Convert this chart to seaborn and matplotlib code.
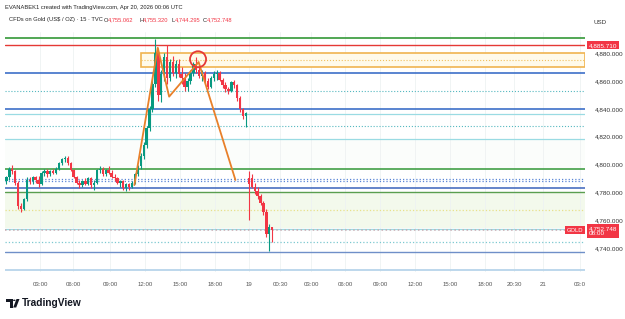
import matplotlib
matplotlib.use("Agg")
import matplotlib.pyplot as plt
import matplotlib.transforms as mtransforms
from matplotlib.patches import Rectangle, Ellipse, Polygon, Circle
import seaborn as sns
import pandas as pd

# ---------------- data ----------------
opens = [4788, 4791, 4797, 4795, 4787, 4770, 4768, 4775, 4789, 4788,
         4791, 4789, 4786, 4794, 4795, 4793, 4795, 4794, 4797, 4801,
         4804, 4805, 4801, 4796, 4791, 4787, 4785, 4788, 4786, 4790,
         4785, 4787, 4796, 4797, 4793, 4796, 4794, 4791, 4790, 4787,
         4788, 4783, 4786, 4784, 4787, 4793, 4799, 4806, 4814, 4826,
         4840, 4858, 4880, 4850, 4865, 4877, 4862, 4874, 4866, 4872,
         4865, 4862, 4856, 4860, 4866, 4872, 4868, 4864, 4866, 4860,
         4856, 4862, 4865, 4866, 4861, 4857, 4854, 4853, 4859, 4857,
         4848, 4840, 4835,
         4790, 4790, 4784, 4781, 4777, 4772, 4766, 4750, 4755.062]
highs = [4792, 4798, 4800, 4796, 4788, 4772, 4776, 4791, 4791, 4792,
         4792, 4792, 4795, 4797, 4797, 4796, 4797, 4798, 4802, 4805,
         4806, 4806, 4802, 4797, 4792, 4789, 4789, 4790, 4791, 4791,
         4789, 4797, 4799, 4798, 4797, 4799, 4796, 4793, 4791, 4789,
         4789, 4787, 4787, 4788, 4794, 4800, 4808, 4816, 4828, 4842,
         4862, 4890, 4884, 4868, 4880, 4886, 4876, 4878, 4875, 4876,
         4870, 4866, 4862, 4868, 4874, 4877, 4871, 4868, 4867, 4862,
         4864, 4867, 4868, 4867, 4862, 4859, 4856, 4860, 4861, 4858,
         4849, 4841, 4838,
         4795, 4793, 4787, 4784, 4779, 4774, 4768, 4757, 4755.320]
lows = [4786, 4789, 4793, 4785, 4768, 4766, 4767, 4774, 4786, 4786,
        4787, 4784, 4785, 4792, 4791, 4792, 4793, 4793, 4796, 4800,
        4802, 4800, 4795, 4790, 4786, 4783, 4784, 4785, 4785, 4783,
        4782, 4786, 4794, 4792, 4792, 4793, 4790, 4788, 4786, 4784,
        4782, 4781, 4782, 4783, 4786, 4792, 4797, 4804, 4812, 4824,
        4838, 4856, 4846, 4845, 4860, 4858, 4860, 4864, 4862, 4863,
        4858, 4853, 4853, 4858, 4864, 4866, 4862, 4860, 4858, 4854,
        4855, 4860, 4861, 4860, 4855, 4852, 4851, 4852, 4855, 4846,
        4838, 4833, 4827,
        4760, 4783, 4779, 4775, 4771, 4764, 4748, 4738, 4744.295]
closes = [4791, 4797, 4795, 4787, 4770, 4768, 4775, 4789, 4788, 4791,
          4789, 4786, 4794, 4795, 4793, 4795, 4794, 4797, 4801, 4804,
          4805, 4801, 4796, 4791, 4787, 4785, 4788, 4786, 4790, 4785,
          4787, 4796, 4797, 4793, 4796, 4794, 4791, 4790, 4787, 4788,
          4783, 4786, 4784, 4787, 4793, 4799, 4806, 4814, 4826, 4840,
          4858, 4880, 4850, 4865, 4877, 4862, 4874, 4866, 4872, 4865,
          4862, 4856, 4860, 4866, 4872, 4868, 4864, 4866, 4860, 4856,
          4862, 4865, 4866, 4861, 4857, 4854, 4853, 4859, 4857, 4848,
          4840, 4835, 4837,
          4786, 4784, 4781, 4777, 4772, 4766, 4750, 4755, 4752.748]

time_ticks = [11.5, 22.8, 35.5, 47.4, 59.4, 71.4, 83.1, 93.7, 104.3, 115.9,
              127.9, 139.9, 151.9, 163.9, 173.8, 183.7, 196.4]
time_labels = ["03:00", "06:00", "09:00", "12:00", "15:00", "18:00", "19",
               "00:30", "03:00", "06:00", "09:00", "12:00", "15:00", "18:00",
               "20:30", "21", "03:0"]

price_ticks = [4740, 4760, 4780, 4800, 4820, 4840, 4860, 4880]

level_prices = [4891.2, 4885.71, 4865.6, 4853.1, 4840.1, 4836.1, 4827.7,
                4818.6, 4797.0, 4789.6, 4788.4, 4783.3, 4780.4, 4767.3,
                4753.8, 4752.748, 4744.0, 4737.0, 4724.0]

trend_x = [43.8, 51.8, 55.7, 65.8, 78.4]
trend_y = [4785.2, 4884.0, 4848.8, 4873.7, 4788.9]

zone_top, zone_bottom, zone_mid, zone_start = 4880.0, 4870.4, 4875.0, 45.9
circle_x, circle_y = 65.6, 4875.7

# ---------------- styles ----------------
level_styles = [
    ("#43a047", "-", 1.3), ("#e53935", "-", 1.0), ("#3d6fc8", "-", 1.2),
    ("#55b8c0", ":", 0.8), ("#3d6fc8", "-", 1.2), ("#9adbe3", "-", 0.9),
    ("#55b8c0", ":", 0.8), ("#9adbe3", "-", 0.9), ("#43a047", "-", 1.2),
    ("#5b86d6", ":", 0.9), ("#5b86d6", ":", 0.9), ("#4a6fc0", "-", 1.2),
    ("#5a9e50", "-", 1.0), ("#e8e08a", ":", 0.9), ("#9adbe3", "-", 0.9),
    ("#c9a9b0", ":", 1.1), ("#7cc8d0", ":", 0.9), ("#6f8fc8", "-", 1.0),
    ("#b8d4ea", "-", 1.3),
]
UP, DOWN = "#089981", "#f23645"
FS = 4.15

sns.set_theme(style="white")
plt.rcParams['font.family'] = ['Liberation Sans', 'DejaVu Sans']

df = pd.DataFrame({"o": opens, "h": highs, "l": lows, "c": closes})
df["i"] = range(len(df))
df["up"] = df["c"] >= df["o"]
df["color"] = df["up"].map({True: UP, False: DOWN})

fig = plt.figure(figsize=(6.25, 3.19), dpi=100)
fig.patch.set_facecolor("white")
ax = fig.add_axes([5 / 625, 1 - 272 / 319, 580 / 625, 240 / 319])
ax.set_xlim(-0.5, 198.1)
ax.set_ylim(4722.7, 4895.3)

# background tint
ax.axhspan(4754, 4780, color="#f3f9ec", zorder=0, lw=0)
ax.axhspan(4797, 4818.6, color="#fbfdfb", zorder=0, lw=0)

# vertical grid
for t in time_ticks:
    ax.axvline(t, color="#eef2f2", lw=0.6, zorder=0.5)

# horizontal levels
for p, (col, ls, lw) in zip(level_prices, level_styles):
    ax.axhline(p, color=col, ls=ls, lw=lw, zorder=1)

# orange zone
ax.add_patch(Rectangle((zone_start, zone_bottom), 198.1 - zone_start,
                       zone_top - zone_bottom, facecolor="#fffaea",
                       edgecolor="#f0b450", lw=1.2, zorder=1.2))
ax.hlines(zone_mid, zone_start, 198.1, colors="#f0c060", linestyles=":",
          lw=0.8, zorder=1.3)

# candles
ax.vlines(df["i"], df["l"], df["h"], colors=df["color"], lw=0.8, zorder=3)
body_bottom = df[["o", "c"]].min(axis=1)
body_h = (df["c"] - df["o"]).abs().clip(lower=0.5)
ax.bar(df["i"], body_h, bottom=body_bottom, width=0.82, color=df["color"],
       lw=0, zorder=3.5)

# trend lines
sns.lineplot(x=trend_x, y=trend_y, sort=False, color="#e8802a", lw=1.3,
             ax=ax, zorder=4)
ax.add_patch(Ellipse((circle_x, circle_y), 5.5, 11.5, fill=False,
                     edgecolor="#e53935", lw=1.3, zorder=4.5))

# axes styling
for s in ax.spines.values():
    s.set_visible(False)
ax.yaxis.tick_right()
ax.set_yticks(price_ticks)
ax.set_yticklabels([f"{v:,.3f}" for v in price_ticks], fontsize=4.6,
                   color="#333333")
ax.tick_params(axis="y", length=0, pad=7)
ax.set_xticks(time_ticks)
ax.set_xticklabels(time_labels, fontsize=4.4, color="#555555")
ax.tick_params(axis="x", length=0, pad=7)
ax.grid(False)

# price tags
tr = mtransforms.blended_transform_factory(ax.transAxes, ax.transData)
ax.text(1.006, 4885.71, "4,885.710", transform=tr, fontsize=4.6,
        color="white", va="center", ha="left", zorder=10, clip_on=False,
        bbox=dict(boxstyle="square,pad=0.25", fc="#f23645", ec="none"))
ax.text(1.006, 4752.0, "4,752.748\n08:00", transform=tr, fontsize=4.6,
        color="white", va="center", ha="left", zorder=10, clip_on=False,
        linespacing=1.1,
        bbox=dict(boxstyle="square,pad=0.3", fc="#f23645", ec="none"))
ax.text(0.997, 4752.748, "GOLD", transform=tr, fontsize=4.2,
        color="white", va="center", ha="right", zorder=10, clip_on=False,
        bbox=dict(boxstyle="square,pad=0.3", fc="#f23645", ec="none"))

# header
fig.text(5 / 625, 1 - 7 / 319, "EVANABEK1 created with TradingView.com, Apr 20, 2026 00:06 UTC",
         fontsize=FS, color="#222222", va="center", ha="left")
fig.text(9 / 625, 1 - 20 / 319, "CFDs on Gold (US$ / OZ) · 15 · TVC",
         fontsize=FS, color="#222222", va="center", ha="left")
ohlc_items = [("O", "4,755.062", 104), ("H", "4,755.320", 139),
              ("L", "4,744.295", 171), ("C", "4,752.748", 203)]
for lab, val, xp in ohlc_items:
    fig.text(xp / 625, 1 - 20 / 319, lab, fontsize=FS, color="#222222",
             va="center", ha="left")
    fig.text((xp + 4) / 625, 1 - 20 / 319, val, fontsize=FS, color="#f23645",
             va="center", ha="left")
fig.text(593 / 625, 1 - 22 / 319, "USD", fontsize=4.5, color="#333333",
         va="center", ha="left")

# TradingView logo
H = 319.0
def fx(x):
    return x / 625
def fy(y):
    return 1 - y / H
fig.patches.append(Polygon([(fx(6), fy(299)), (fx(12.5), fy(299)), (fx(12.5), fy(307.5)),
                            (fx(9.5), fy(307.5)), (fx(9.5), fy(301.5)), (fx(6), fy(301.5))],
                           closed=True, transform=fig.transFigure, fc="#131722", ec="none"))
fig.patches.append(Circle((fx(14.3), fy(300.3)), 1.3 / 625, transform=fig.transFigure,
                          fc="#131722", ec="none"))
fig.patches.append(Polygon([(fx(16.5), fy(299)), (fx(19.5), fy(299)), (fx(16.2), fy(307.5)),
                            (fx(13.2), fy(307.5))],
                           closed=True, transform=fig.transFigure, fc="#131722", ec="none"))
fig.text(fx(21.5), fy(303.5), "TradingView", fontsize=7.3, fontweight="bold",
         color="#131722", va="center", ha="left")

fig.savefig("out.png", dpi=100, facecolor="white")
